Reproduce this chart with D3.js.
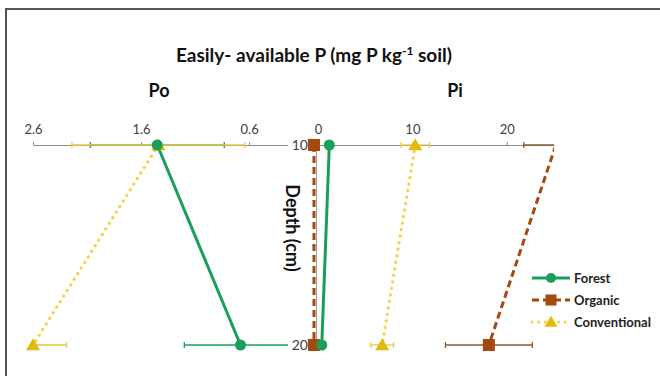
<!DOCTYPE html>
<html>
<head>
<meta charset="utf-8">
<script src="https://cdn.jsdelivr.net/npm/d3@7"></script>
<style>
  body { margin: 0; background: #fff; }
  svg text { font-family: Lato, "Liberation Sans", sans-serif; }
</style>
</head>
<body>
<div id="chart"></div>
<script>
// Data
var depths = [10, 20];
var seriesNames = ["Forest", "Organic", "Conventional"];

var poForest = [1.45, 0.68];
var poForestErr = [0.62, 0.52];
var poOrganic = [0, 0];
var poOrganicErr = [0.02, 0.02];
var poConventional = [1.44, 2.6];
var poConventionalErr = [0.8, 0.31];

var piForest = [1.2, 0.4];
var piForestErr = [0.2, 0.2];
var piOrganic = [25.2, 18.1];
var piOrganicErr = [3.4, 4.6];
var piConventional = [10.3, 6.8];
var piConventionalErr = [1.5, 1.2];

var poTicks = [2.6, 1.6, 0.6];
var piTicks = [0, 10, 20];
var depthTicks = [10, 20];

// Setup
var width = 660, height = 376;
var colors = { Forest: "#1a9f5b", Organic: "#a4490f", Conventional: "#e2bb0a" };
var lineColors = { Forest: "#1a9f5b", Organic: "#a4490f", Conventional: "#f2d34a" };
var errColors = { Forest: "#1a9f5b", Organic: "#8a5a32", Conventional: "#e8c84a" };

var svg = d3.select("#chart").append("svg")
    .attr("width", width)
    .attr("height", height);

// frame
svg.append("path")
    .attr("d", "M6,376 L6,9 L660,9")
    .attr("fill", "none")
    .attr("stroke", "#555")
    .attr("stroke-width", 2);

var po_x = d3.scaleLinear().domain([2.6, 0]).range([33, 314]);
var pi_x = d3.scaleLinear().domain([0, 25]).range([318, 554]);
var y = d3.scaleLinear().domain([10, 20]).range([145, 345]);

// clip areas
var defs = svg.append("defs");
defs.append("clipPath").attr("id", "clipPo").append("rect")
    .attr("x", po_x(2.6)).attr("y", 0).attr("width", po_x(0) - po_x(2.6) + 8).attr("height", height);
defs.append("clipPath").attr("id", "clipPi").append("rect")
    .attr("x", pi_x(0) - 8).attr("y", 0).attr("width", pi_x(25) - pi_x(0) + 8).attr("height", height);

// Title
var title = svg.append("text")
    .attr("x", 314).attr("y", 62)
    .attr("text-anchor", "middle")
    .attr("font-size", 19).attr("font-weight", "bold").attr("fill", "#111");
title.append("tspan").text("Easily- available P (mg P kg");
title.append("tspan").attr("dy", -7).attr("font-size", 12).text("-1");
title.append("tspan").attr("dy", 7).text(" soil)");

svg.append("text").attr("x", 159).attr("y", 97).attr("text-anchor", "middle")
    .attr("font-size", 18).attr("font-weight", "bold").attr("fill", "#111").text("Po");
svg.append("text").attr("x", 455).attr("y", 97).attr("text-anchor", "middle")
    .attr("font-size", 18).attr("font-weight", "bold").attr("fill", "#111").text("Pi");

// Axes
var axisY = y(10);
var poAxis = d3.axisTop(po_x).tickValues(poTicks).tickSize(3).tickSizeOuter(0).tickFormat(d3.format(".1f"));
var piAxis = d3.axisTop(pi_x).tickValues(piTicks).tickSize(3).tickSizeOuter(0).tickFormat(d3.format("d"));

function styleAxis(g) {
    g.select(".domain").attr("stroke", "#8c8c8c");
    g.selectAll(".tick line").attr("stroke", "#8c8c8c");
    g.selectAll(".tick text").attr("font-size", 13).attr("fill", "#404040")
        .attr("font-family", "Lato, 'Liberation Sans', sans-serif").attr("dy", "-0.35em");
}

svg.append("g").attr("transform", "translate(0," + axisY + ")").call(poAxis).call(styleAxis);
svg.append("g").attr("transform", "translate(0," + axisY + ")").call(piAxis).call(styleAxis);

// Depth axis
var depthAxis = d3.axisLeft(y).tickValues([10, 15, 20]).tickSize(4).tickSizeOuter(0).tickFormat("");
var dg = svg.append("g").attr("transform", "translate(316,0)").call(depthAxis);
dg.select(".domain").attr("stroke", "#a0a0a0");
dg.selectAll(".tick line").attr("stroke", "#a0a0a0");

svg.append("text")
    .attr("transform", "translate(286," + 228 + ") rotate(90)")
    .attr("text-anchor", "middle")
    .attr("font-size", 18).attr("font-weight", "bold").attr("fill", "#111")
    .text("Depth (cm)");

// Series
function buildSeries(vals, errs) {
    return depths.map(function (d, i) { return { depth: d, value: vals[i], err: errs[i] }; });
}
var poSeries = [
    { name: "Forest", data: buildSeries(poForest, poForestErr) },
    { name: "Organic", data: buildSeries(poOrganic, poOrganicErr) },
    { name: "Conventional", data: buildSeries(poConventional, poConventionalErr) }
];
var piSeries = [
    { name: "Forest", data: buildSeries(piForest, piForestErr) },
    { name: "Organic", data: buildSeries(piOrganic, piOrganicErr) },
    { name: "Conventional", data: buildSeries(piConventional, piConventionalErr) }
];

function dashFor(name) {
    if (name === "Organic") return "7,4";
    if (name === "Conventional") return "0.1,6.5";
    return null;
}

function drawMarker(g, name, cx, cy, size) {
    var c = colors[name];
    if (name === "Forest") {
        g.append("circle").attr("cx", cx).attr("cy", cy).attr("r", size / 2).attr("fill", c);
    } else if (name === "Organic") {
        g.append("rect").attr("x", cx - size / 2).attr("y", cy - size / 2)
            .attr("width", size).attr("height", size).attr("fill", c);
    } else {
        var h = size * 0.95;
        g.append("path")
            .attr("d", "M" + cx + "," + (cy - h * 0.6) + " L" + (cx + size / 2 + 1) + "," + (cy + h * 0.45) +
                " L" + (cx - size / 2 - 1) + "," + (cy + h * 0.45) + " Z")
            .attr("fill", c);
    }
}

function drawPanel(seriesList, x, clipId) {
    var lo = d3.min(x.domain()), hi = d3.max(x.domain());
    var errG = svg.append("g").attr("clip-path", "url(#" + clipId + ")");
    var lineG = svg.append("g").attr("clip-path", "url(#" + clipId + ")");
    var markG = svg.append("g");

    seriesList.forEach(function (s) {
        s.data.forEach(function (d) {
            var x0 = x(d.value - d.err), x1 = x(d.value + d.err), yy = y(d.depth);
            errG.append("line").attr("x1", x0).attr("x2", x1).attr("y1", yy).attr("y2", yy)
                .attr("stroke", errColors[s.name]).attr("stroke-width", 1.3);
            [x0, x1].forEach(function (xc) {
                errG.append("line").attr("x1", xc).attr("x2", xc).attr("y1", yy - 3).attr("y2", yy + 3)
                    .attr("stroke", errColors[s.name]).attr("stroke-width", 1.3);
            });
        });
    });

    seriesList.forEach(function (s) {
        var line = d3.line().x(function (d) { return x(d.value); }).y(function (d) { return y(d.depth); });
        lineG.append("path")
            .attr("d", line(s.data))
            .attr("fill", "none")
            .attr("stroke", lineColors[s.name])
            .attr("stroke-width", s.name === "Conventional" ? 3.2 : 3)
            .attr("stroke-linecap", s.name === "Conventional" ? "round" : "butt")
            .attr("stroke-dasharray", dashFor(s.name));
    });

    // markers on top; points outside the axis range are not drawn
    ["Organic", "Conventional", "Forest"].forEach(function (n) {
        var s = seriesList.filter(function (q) { return q.name === n; })[0];
        s.data.forEach(function (d) {
            if (d.value < lo || d.value > hi) return;
            drawMarker(markG, s.name, x(d.value), y(d.depth), n === "Forest" ? 11 : 12);
        });
    });
}

drawPanel(poSeries, po_x, "clipPo");
drawPanel(piSeries, pi_x, "clipPi");

// depth labels (over the lines)
depthTicks.forEach(function (d) {
    svg.append("rect").attr("x", 288).attr("y", y(d) - 7).attr("width", 20).attr("height", 14).attr("fill", "#fff");
    svg.append("text").attr("x", 308).attr("y", y(d)).attr("dy", "0.35em")
        .attr("text-anchor", "end").attr("font-size", 14).attr("fill", "#404040").text(d);
});

// Legend
var legend = svg.append("g").attr("transform", "translate(532,278)");
seriesNames.forEach(function (n, i) {
    var gy = i * 22;
    legend.append("line").attr("x1", 0).attr("x2", 38).attr("y1", gy).attr("y2", gy)
        .attr("stroke", lineColors[n]).attr("stroke-width", 3)
        .attr("stroke-linecap", n === "Conventional" ? "round" : "butt")
        .attr("stroke-dasharray", dashFor(n));
    drawMarker(legend, n, 19, gy, n === "Forest" ? 10 : 11);
    legend.append("text").attr("x", 42).attr("y", gy).attr("dy", "0.35em")
        .attr("font-size", 13).attr("font-weight", "bold").attr("fill", "#222").text(n);
});
</script>
</body>
</html>
